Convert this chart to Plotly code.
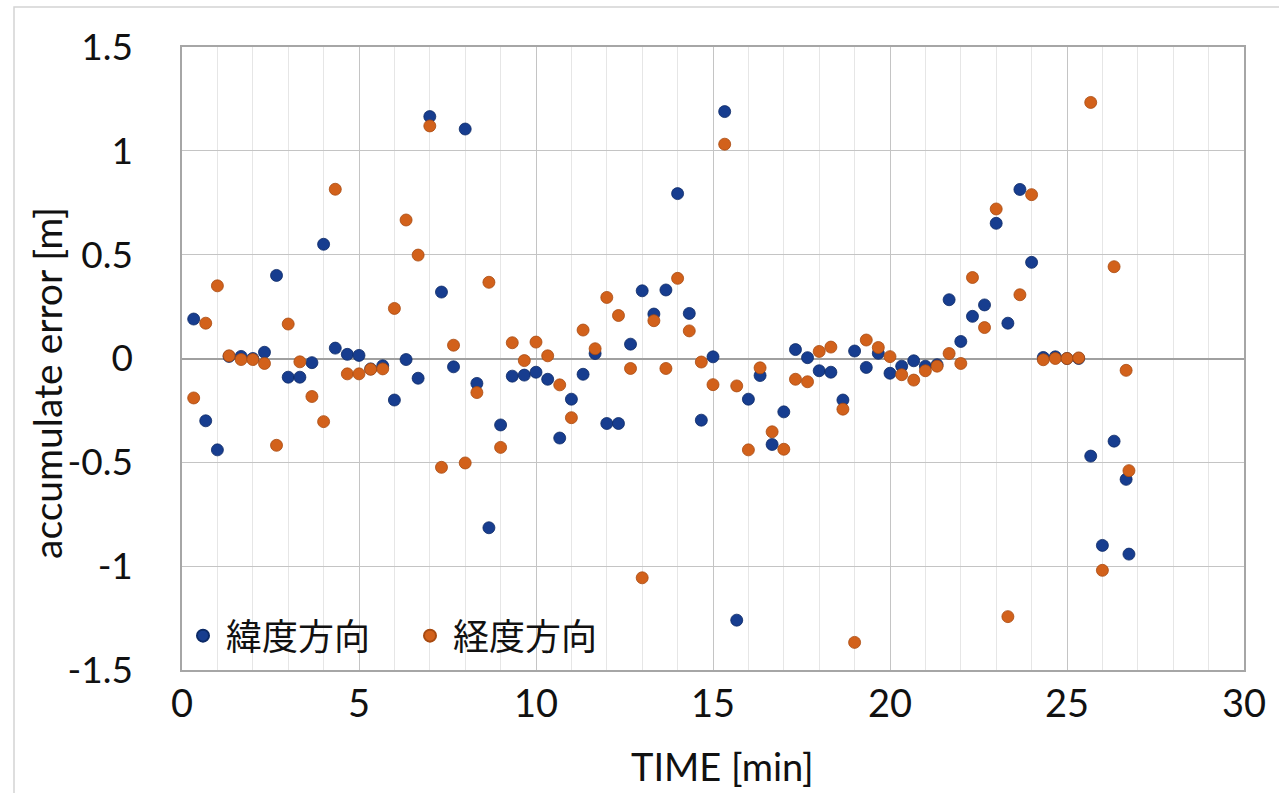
import plotly.graph_objects as go

time_min = [0.33, 0.67, 1.0, 1.33, 1.67, 2.0, 2.33, 2.67, 3.0, 3.33,
            3.67, 4.0, 4.33, 4.67, 5.0, 5.33, 5.67, 6.0, 6.33, 6.67,
            7.0, 7.33, 7.67, 8.0, 8.33, 8.67, 9.0, 9.33, 9.67, 10.0,
            10.33, 10.67, 11.0, 11.33, 11.67, 12.0, 12.33, 12.67, 13.0, 13.33,
            13.67, 14.0, 14.33, 14.67, 15.0, 15.33, 15.67, 16.0, 16.33, 16.67,
            17.0, 17.33, 17.67, 18.0, 18.33, 18.67, 19.0, 19.33, 19.67, 20.0,
            20.33, 20.67, 21.0, 21.33, 21.67, 22.0, 22.33, 22.67, 23.0, 23.33,
            23.67, 24.0, 24.33, 24.67, 25.0, 25.33, 25.67, 26.0, 26.33, 26.67,
            26.75]

lat_err = [0.19, -0.30, -0.44, 0.01, 0.01, 0.0, 0.03, 0.40, -0.09, -0.09,
           -0.02, 0.55, 0.05, 0.02, 0.015, -0.05, -0.035, -0.20, -0.005, -0.095,
           1.165, 0.32, -0.04, 1.105, -0.12, -0.815, -0.32, -0.085, -0.08, -0.066,
           -0.10, -0.383, -0.196, -0.076, 0.024, -0.313, -0.313, 0.069, 0.326, 0.214,
           0.33, 0.794, 0.217, -0.297, 0.008, 1.189, -1.26, -0.196, -0.082, -0.414,
           -0.257, 0.043, 0.004, -0.059, -0.066, -0.20, 0.036, -0.043, 0.025, -0.071,
           -0.037, -0.011, -0.037, -0.03, 0.283, 0.082, 0.203, 0.258, 0.651, 0.17,
           0.814, 0.463, 0.005, 0.008, 0.0, 0.0, -0.47, -0.90, -0.398, -0.582,
           -0.942]

lon_err = [-0.19, 0.17, 0.35, 0.013, -0.005, -0.005, -0.024, -0.418, 0.166, -0.016,
           -0.183, -0.304, 0.815, -0.074, -0.074, -0.052, -0.05, 0.241, 0.667, 0.498,
           1.12, -0.524, 0.064, -0.503, -0.164, 0.367, -0.428, 0.076, -0.01, 0.079,
           0.013, -0.127, -0.285, 0.137, 0.047, 0.294, 0.207, -0.048, -1.056, 0.182,
           -0.048, 0.386, 0.133, -0.017, -0.126, 1.032, -0.132, -0.44, -0.045, -0.353,
           -0.437, -0.10, -0.112, 0.034, 0.055, -0.244, -1.367, 0.089, 0.053, 0.009,
           -0.078, -0.104, -0.059, -0.037, 0.024, -0.024, 0.39, 0.149, 0.72, -1.243,
           0.307, 0.789, -0.006, 0.0, 0.0, 0.003, 1.233, -1.02, 0.442, -0.057,
           -0.54]

series_names = ["緯度方向", "経度方向"]
y_tickvals = [-1.5, -1, -0.5, 0, 0.5, 1, 1.5]
y_ticktext = ["-1.5", "-1", "-0.5", "0", "0.5", "1", "1.5"]
x_tickvals = [0, 5, 10, 15, 20, 25, 30]
x_ticktext = ["0", "5", "10", "15", "20", "25", "30"]
x_title = "TIME [min]"
y_title = "accumulate error [m]"

BLUE = "#173d8f"
ORANGE = "#d2611b"

fig = go.Figure()
fig.add_trace(go.Scatter(x=time_min, y=lat_err, mode="markers", name=series_names[0],
                         marker=dict(size=12, color=BLUE, line=dict(width=0.8, color="#0c2a66"))))
fig.add_trace(go.Scatter(x=time_min, y=lon_err, mode="markers", name=series_names[1],
                         marker=dict(size=12, color=ORANGE, line=dict(width=0.8, color="#a84a10"))))

L, R, T, B = 182, 1244, 47, 670
W, H = 1279, 793
pw, ph = R - L, B - T

fig.update_layout(
    width=W, height=H,
    margin=dict(l=L, r=W - R, t=T, b=H - B),
    paper_bgcolor="white", plot_bgcolor="white",
    font=dict(family="Lato, 'Noto Sans CJK JP', sans-serif", color="#111111"),
    showlegend=True,
    legend=dict(orientation="h", x=-2 / pw, y=0.055, xanchor="left", yanchor="middle",
                bgcolor="rgba(0,0,0,0)", itemwidth=36,
                font=dict(family="'Noto Sans CJK JP', sans-serif", size=36, color="#111111"),
                entrywidth=176, entrywidthmode="pixels", itemsizing="constant"),
    xaxis=dict(range=[0, 30], tickvals=x_tickvals, ticktext=x_ticktext,
               showgrid=True, gridcolor="#c4c4c4", gridwidth=1.3,
               minor=dict(dtick=1, tick0=0, showgrid=True, gridcolor="#e6e6e6", gridwidth=1.3),
               showline=True, linecolor="#a6a6a6", linewidth=1.5, mirror=True,
               zeroline=False, ticks="",
               tickfont=dict(size=38, family="Lato"), ticklabelstandoff=0),
    yaxis=dict(range=[-1.5, 1.5], tickvals=y_tickvals, ticktext=y_ticktext,
               showgrid=True, gridcolor="#c4c4c4", gridwidth=1.3,
               showline=True, linecolor="#a6a6a6", linewidth=1.5, mirror=True,
               zeroline=True, zerolinecolor="#a0a0a0", zerolinewidth=1.6,
               ticks="", tickfont=dict(size=37, family="Lato"), ticklabelstandoff=40),
)

# axis titles placed like the Excel original
fig.add_annotation(text=x_title, xref="paper", yref="paper",
                   x=(722 - L) / pw, y=(B - 766) / ph, xanchor="center", yanchor="middle",
                   showarrow=False, font=dict(size=38, family="Lato", color="#111111"))
fig.add_annotation(text=y_title, xref="paper", yref="paper", textangle=-90,
                   x=(47 - L) / pw, y=(B - 383) / ph, xanchor="center", yanchor="middle",
                   showarrow=False, font=dict(size=39, family="Lato", color="#111111"))

# outer chart-area frame
fig.add_shape(type="rect", xref="paper", yref="paper",
              x0=(14 - L) / pw, x1=(1290 - L) / pw,
              y0=(B - 800) / ph, y1=1 + (T - 7) / ph,
              line=dict(color="#d4d4d4", width=1.5), layer="below")

fig.write_html("out.html")
